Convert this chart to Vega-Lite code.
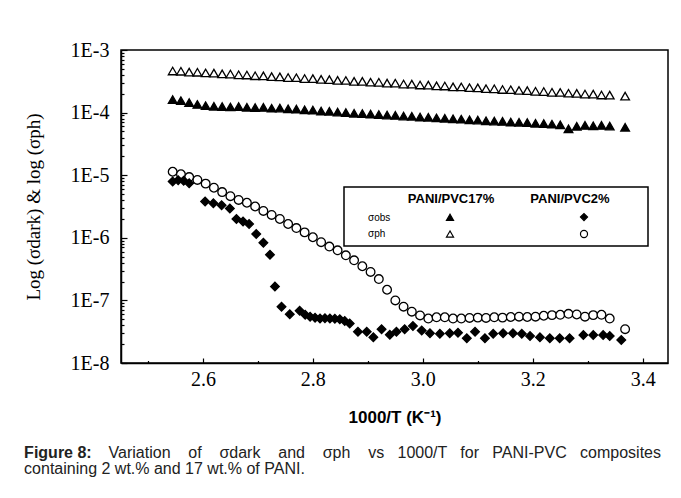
{
  "$schema": "https://vega.github.io/schema/vega-lite/v6.json",
  "width": 547,
  "height": 313,
  "autosize": {"type": "none"},
  "padding": {"left": 121, "top": 50, "right": 13, "bottom": 135},
  "background": "white",
  "config": {
    "view": {"stroke": "black", "strokeWidth": 1.5},
    "axis": {"grid": false, "domainColor": "black", "domainWidth": 1.5, "tickColor": "black", "tickWidth": 1.2, "labelColor": "black", "titleColor": "black", "labelFont": "Liberation Serif", "labelFontSize": 20, "labelFlush": false, "labelOverlap": false},
    "legend": {"strokeWidth": 1.5}
  },
  "title": {
    "text": "Figure 8:",
    "subtitle": ["\u200b\u00a0\u00a0\u00a0\u00a0\u00a0\u00a0\u00a0\u00a0\u00a0\u00a0\u00a0\u00a0\u00a0\u00a0\u00a0\u00a0\u00a0\u00a0\u00a0Variation \u00a0\u00a0\u00a0of \u00a0\u00a0\u00a0σdark \u00a0\u00a0\u00a0and \u00a0\u00a0\u00a0σph \u00a0\u00a0\u00a0vs \u00a0\u00a01000/T \u00a0\u00a0for \u00a0\u00a0PANI-PVC \u00a0\u00a0composites", "containing 2 wt.% and 17 wt.% of PANI."],
    "orient": "bottom",
    "anchor": "start",
    "frame": "bounds",
    "offset": 19,
    "dx": 0,
    "font": "Liberation Sans",
    "fontSize": 16,
    "fontWeight": "bold",
    "color": "#222",
    "subtitleFont": "Liberation Sans",
    "subtitleFontSize": 16,
    "subtitleFontWeight": "normal",
    "subtitleColor": "#222",
    "subtitleLineHeight": 16,
    "subtitlePadding": -16
  },
  "encoding": {
    "x": {
      "field": "x", "type": "quantitative",
      "scale": {"domain": [2.451, 3.446], "nice": false, "zero": false},
      "axis": {
        "title": "1000/T (K⁻¹)",
        "titleFont": "Liberation Sans", "titleFontSize": 17, "titleFontWeight": "bold", "titlePadding": 18,
        "values": [2.5, 2.6, 2.7, 2.8, 2.9, 3.0, 3.1, 3.2, 3.3, 3.4],
        "labelExpr": "round(datum.value*10)%2==0 ? format(datum.value,'.1f') : ''",
        "tickSize": {"condition": {"test": "round(datum.value*10)%2==0", "value": -5}, "value": -2.5},
        "labelPadding": 11
      }
    },
    "y": {
      "field": "value", "type": "quantitative",
      "scale": {"type": "log", "domain": [1e-8, 1e-3], "nice": false},
      "axis": {
        "title": "Log (σdark) & log (σph)",
        "titleFont": "Liberation Serif", "titleFontSize": 19, "titleFontWeight": "normal", "titlePadding": 27,
        "values": [1e-8,2e-8,3e-8,4e-8,5e-8,6e-8,7e-8,8e-8,9e-8,1e-7,2e-7,3e-7,4e-7,5e-7,6e-7,7e-7,8e-7,9e-7,1e-6,2e-6,3e-6,4e-6,5e-6,6e-6,7e-6,8e-6,9e-6,1e-5,2e-5,3e-5,4e-5,5e-5,6e-5,7e-5,8e-5,9e-5,1e-4,2e-4,3e-4,4e-4,5e-4,6e-4,7e-4,8e-4,9e-4,1e-3],
        "labelExpr": "abs(log(datum.value)/LN10-round(log(datum.value)/LN10))<1e-6 ? '1E'+round(log(datum.value)/LN10) : ''",
        "tickSize": {"condition": {"test": "abs(log(datum.value)/LN10-round(log(datum.value)/LN10))<1e-6", "value": -6}, "value": -3},
        "labelPadding": 18
      }
    },
    "shape": {
      "field": "key", "type": "nominal",
      "scale": {"domain": ["r1", "r2", "a", "b", "d", "c"], "range": ["M0,0", "M0,0", "triangle-up", "triangle-up", "diamond", "circle"]},
      "legend": {
        "orient": "none", "legendX": 223, "legendY": 137, "columns": 3, "columnPadding": 53, "rowPadding": 5, "padding": 6,
        "strokeColor": "black", "fillColor": "white",
        "title": "\u200b\u00a0\u00a0\u00a0\u00a0\u00a0\u00a0\u00a0\u00a0\u00a0\u00a0\u00a0\u00a0\u00a0\u00a0\u00a0\u00a0PANI/PVC17%\u00a0\u00a0\u00a0\u00a0\u00a0\u00a0\u00a0\u00a0\u00a0\u00a0PANI/PVC2%",
        "titleFont": "Liberation Sans", "titleFontSize": 13, "titleFontWeight": "bold", "titlePadding": 6, "titleLimit": 400, "titleColor": "black",
        "labelFont": "Liberation Sans", "labelFontSize": 10, "labelColor": "black", "labelOffset": 8, "labelLimit": 300,
        "labelExpr": "datum.value=='r1' ? 'σobs' : datum.value=='r2' ? 'σph' : (datum.value=='a'||datum.value=='b') ? '\u200b\u00a0\u00a0\u00a0\u00a0\u00a0\u00a0\u00a0\u00a0\u00a0\u00a0\u00a0\u00a0\u00a0\u00a0\u00a0\u00a0\u00a0\u00a0\u00a0\u00a0\u00a0\u00a0\u200b' : '\u200b\u00a0\u00a0\u00a0\u00a0\u00a0\u00a0\u00a0\u00a0\u00a0\u00a0\u00a0\u00a0\u00a0\u00a0\u00a0\u00a0\u200b'",
        "symbolSize": 50, "symbolStrokeWidth": 1.2
      }
    },
    "fill": {
      "field": "key", "type": "nominal",
      "scale": {"domain": ["r1", "r2", "a", "b", "d", "c"], "range": ["transparent", "transparent", "black", "white", "black", "white"]},
      "legend": {
        "orient": "none", "legendX": 223, "legendY": 137, "columns": 3, "columnPadding": 53, "rowPadding": 5, "padding": 6,
        "strokeColor": "black", "fillColor": "white",
        "title": "\u200b\u00a0\u00a0\u00a0\u00a0\u00a0\u00a0\u00a0\u00a0\u00a0\u00a0\u00a0\u00a0\u00a0\u00a0\u00a0\u00a0PANI/PVC17%\u00a0\u00a0\u00a0\u00a0\u00a0\u00a0\u00a0\u00a0\u00a0\u00a0PANI/PVC2%",
        "titleFont": "Liberation Sans", "titleFontSize": 13, "titleFontWeight": "bold", "titlePadding": 6, "titleLimit": 400, "titleColor": "black",
        "labelFont": "Liberation Sans", "labelFontSize": 10, "labelColor": "black", "labelOffset": 8, "labelLimit": 300,
        "labelExpr": "datum.value=='r1' ? 'σobs' : datum.value=='r2' ? 'σph' : (datum.value=='a'||datum.value=='b') ? '\u200b\u00a0\u00a0\u00a0\u00a0\u00a0\u00a0\u00a0\u00a0\u00a0\u00a0\u00a0\u00a0\u00a0\u00a0\u00a0\u00a0\u00a0\u00a0\u00a0\u00a0\u00a0\u00a0\u200b' : '\u200b\u00a0\u00a0\u00a0\u00a0\u00a0\u00a0\u00a0\u00a0\u00a0\u00a0\u00a0\u00a0\u00a0\u00a0\u00a0\u00a0\u200b'",
        "symbolSize": 50, "symbolStrokeWidth": 1.2
      }
    },
    "stroke": {
      "field": "key", "type": "nominal",
      "scale": {"domain": ["r1", "r2", "a", "b", "d", "c"], "range": ["transparent", "transparent", "black", "black", "black", "black"]},
      "legend": {
        "orient": "none", "legendX": 223, "legendY": 137, "columns": 3, "columnPadding": 53, "rowPadding": 5, "padding": 6,
        "strokeColor": "black", "fillColor": "white",
        "title": "\u200b\u00a0\u00a0\u00a0\u00a0\u00a0\u00a0\u00a0\u00a0\u00a0\u00a0\u00a0\u00a0\u00a0\u00a0\u00a0\u00a0PANI/PVC17%\u00a0\u00a0\u00a0\u00a0\u00a0\u00a0\u00a0\u00a0\u00a0\u00a0PANI/PVC2%",
        "titleFont": "Liberation Sans", "titleFontSize": 13, "titleFontWeight": "bold", "titlePadding": 6, "titleLimit": 400, "titleColor": "black",
        "labelFont": "Liberation Sans", "labelFontSize": 10, "labelColor": "black", "labelOffset": 8, "labelLimit": 300,
        "labelExpr": "datum.value=='r1' ? 'σobs' : datum.value=='r2' ? 'σph' : (datum.value=='a'||datum.value=='b') ? '\u200b\u00a0\u00a0\u00a0\u00a0\u00a0\u00a0\u00a0\u00a0\u00a0\u00a0\u00a0\u00a0\u00a0\u00a0\u00a0\u00a0\u00a0\u00a0\u00a0\u00a0\u00a0\u00a0\u200b' : '\u200b\u00a0\u00a0\u00a0\u00a0\u00a0\u00a0\u00a0\u00a0\u00a0\u00a0\u00a0\u00a0\u00a0\u00a0\u00a0\u00a0\u200b'",
        "symbolSize": 50, "symbolStrokeWidth": 1.2
      }
    }
  },
  "layer": [
    {
      "data": {"values": [
        {"x": 2.545, "a": 1.62e-4, "b": 4.62e-4, "c": 1.135e-5},
        {"x": 2.560, "a": 1.55e-4, "b": 4.58e-4, "c": 1.035e-5},
        {"x": 2.575, "a": 1.45e-4, "b": 4.44e-4, "c": 9.33e-6},
        {"x": 2.590, "a": 1.35e-4, "b": 4.41e-4, "c": 8.41e-6},
        {"x": 2.605, "a": 1.29e-4, "b": 4.30e-4, "c": 7.33e-6},
        {"x": 2.620, "a": 1.26e-4, "b": 4.27e-4, "c": 6.31e-6},
        {"x": 2.635, "a": 1.245e-4, "b": 4.15e-4, "c": 5.37e-6},
        {"x": 2.650, "a": 1.23e-4, "b": 4.13e-4, "c": 4.62e-6},
        {"x": 2.665, "a": 1.245e-4, "b": 4.02e-4, "c": 4.03e-6},
        {"x": 2.680, "a": 1.215e-4, "b": 3.99e-4, "c": 3.63e-6},
        {"x": 2.695, "a": 1.20e-4, "b": 3.88e-4, "c": 3.16e-6},
        {"x": 2.710, "a": 1.21e-4, "b": 3.86e-4, "c": 2.69e-6},
        {"x": 2.725, "a": 1.175e-4, "b": 3.76e-4, "c": 2.32e-6},
        {"x": 2.740, "a": 1.18e-4, "b": 3.73e-4, "c": 2.0e-6},
        {"x": 2.755, "a": 1.15e-4, "b": 3.63e-4, "c": 1.66e-6},
        {"x": 2.770, "a": 1.135e-4, "b": 3.61e-4, "c": 1.43e-6},
        {"x": 2.785, "a": 1.11e-4, "b": 3.50e-4, "c": 1.22e-6},
        {"x": 2.800, "a": 1.10e-4, "b": 3.49e-4, "c": 1.02e-6},
        {"x": 2.815, "a": 1.06e-4, "b": 3.39e-4, "c": 8.51e-7},
        {"x": 2.830, "a": 1.05e-4, "b": 3.37e-4, "c": 7.24e-7},
        {"x": 2.845, "a": 1.02e-4, "b": 3.28e-4, "c": 6.31e-7},
        {"x": 2.860, "a": 1.0e-4, "b": 3.26e-4, "c": 5.25e-7},
        {"x": 2.875, "a": 9.77e-5, "b": 3.16e-4, "c": 4.37e-7},
        {"x": 2.890, "a": 9.66e-5, "b": 3.15e-4, "c": 3.51e-7},
        {"x": 2.905, "a": 9.44e-5, "b": 3.06e-4, "c": 2.85e-7},
        {"x": 2.920, "a": 9.33e-5, "b": 3.05e-4, "c": 2.19e-7},
        {"x": 2.935, "a": 9.12e-5, "b": 2.96e-4, "c": 1.48e-7},
        {"x": 2.950, "a": 9.02e-5, "b": 2.95e-4, "c": 1.0e-7},
        {"x": 2.965, "a": 8.81e-5, "b": 2.86e-4, "c": 7.94e-8},
        {"x": 2.980, "a": 8.71e-5, "b": 2.85e-4, "c": 6.61e-8},
        {"x": 2.995, "a": 8.51e-5, "b": 2.76e-4, "c": 5.75e-8},
        {"x": 3.010, "a": 8.41e-5, "b": 2.75e-4, "c": 5.13e-8},
        {"x": 3.025, "a": 8.22e-5, "b": 2.67e-4, "c": 5.37e-8},
        {"x": 3.040, "a": 8.13e-5, "b": 2.66e-4, "c": 5.37e-8},
        {"x": 3.055, "a": 7.94e-5, "b": 2.58e-4, "c": 5.13e-8},
        {"x": 3.070, "a": 7.85e-5, "b": 2.57e-4, "c": 5.13e-8},
        {"x": 3.085, "a": 7.67e-5, "b": 2.50e-4, "c": 5.25e-8},
        {"x": 3.100, "a": 7.59e-5, "b": 2.48e-4, "c": 5.31e-8},
        {"x": 3.115, "a": 7.41e-5, "b": 2.41e-4, "c": 5.25e-8},
        {"x": 3.130, "a": 7.33e-5, "b": 2.40e-4, "c": 5.37e-8},
        {"x": 3.145, "a": 7.24e-5, "b": 2.34e-4, "c": 5.31e-8},
        {"x": 3.160, "a": 7.08e-5, "b": 2.32e-4, "c": 5.43e-8},
        {"x": 3.175, "a": 7.0e-5, "b": 2.26e-4, "c": 5.50e-8},
        {"x": 3.190, "a": 6.92e-5, "b": 2.25e-4, "c": 5.43e-8},
        {"x": 3.205, "a": 6.76e-5, "b": 2.19e-4, "c": 5.50e-8},
        {"x": 3.220, "a": 6.68e-5, "b": 2.17e-4, "c": 5.69e-8},
        {"x": 3.235, "a": 6.53e-5, "b": 2.11e-4, "c": 5.82e-8},
        {"x": 3.250, "a": 6.38e-5, "b": 2.10e-4, "c": 5.89e-8},
        {"x": 3.265, "a": 5.50e-5, "b": 2.04e-4, "c": 6.10e-8},
        {"x": 3.280, "a": 6.03e-5, "b": 2.03e-4, "c": 5.96e-8},
        {"x": 3.295, "a": 6.24e-5, "b": 1.98e-4, "c": 5.50e-8},
        {"x": 3.310, "a": 6.17e-5, "b": 1.97e-4, "c": 5.82e-8},
        {"x": 3.325, "a": 6.24e-5, "b": 1.91e-4, "c": 5.89e-8},
        {"x": 3.340, "a": 6.10e-5, "b": 1.90e-4, "c": 5.13e-8},
        {"x": 3.368, "a": 5.82e-5, "b": 1.83e-4, "c": 3.47e-8}
      ]},
      "transform": [{"fold": ["a", "b", "c"]}],
      "mark": {"type": "point", "strokeWidth": 1.3, "size": 75, "opacity": 1}
    },
    {
      "data": {"values": [
        {"x": 2.545, "key": "d", "value": 7.94e-6},
        {"x": 2.555, "key": "d", "value": 8.32e-6},
        {"x": 2.565, "key": "d", "value": 8.13e-6},
        {"x": 2.575, "key": "d", "value": 7.41e-6},
        {"x": 2.604, "key": "d", "value": 3.80e-6},
        {"x": 2.619, "key": "d", "value": 3.55e-6},
        {"x": 2.634, "key": "d", "value": 3.31e-6},
        {"x": 2.649, "key": "d", "value": 2.95e-6},
        {"x": 2.661, "key": "d", "value": 2.0e-6},
        {"x": 2.673, "key": "d", "value": 1.82e-6},
        {"x": 2.684, "key": "d", "value": 1.66e-6},
        {"x": 2.697, "key": "d", "value": 1.15e-6},
        {"x": 2.710, "key": "d", "value": 8.32e-7},
        {"x": 2.722, "key": "d", "value": 5.37e-7},
        {"x": 2.731, "key": "d", "value": 1.66e-7},
        {"x": 2.743, "key": "d", "value": 7.94e-8},
        {"x": 2.758, "key": "d", "value": 6.03e-8},
        {"x": 2.776, "key": "d", "value": 6.84e-8},
        {"x": 2.786, "key": "d", "value": 5.9e-8},
        {"x": 2.795, "key": "d", "value": 5.50e-8},
        {"x": 2.804, "key": "d", "value": 5.3e-8},
        {"x": 2.813, "key": "d", "value": 5.13e-8},
        {"x": 2.822, "key": "d", "value": 5.2e-8},
        {"x": 2.831, "key": "d", "value": 5.13e-8},
        {"x": 2.840, "key": "d", "value": 5.1e-8},
        {"x": 2.849, "key": "d", "value": 5.01e-8},
        {"x": 2.858, "key": "d", "value": 4.7e-8},
        {"x": 2.867, "key": "d", "value": 4.27e-8},
        {"x": 2.882, "key": "d", "value": 3.16e-8},
        {"x": 2.898, "key": "d", "value": 3.16e-8},
        {"x": 2.910, "key": "d", "value": 2.57e-8},
        {"x": 2.925, "key": "d", "value": 3.47e-8},
        {"x": 2.940, "key": "d", "value": 2.82e-8},
        {"x": 2.952, "key": "d", "value": 3.16e-8},
        {"x": 2.967, "key": "d", "value": 3.47e-8},
        {"x": 2.982, "key": "d", "value": 3.89e-8},
        {"x": 2.998, "key": "d", "value": 3.31e-8},
        {"x": 3.013, "key": "d", "value": 2.99e-8},
        {"x": 3.031, "key": "d", "value": 2.92e-8},
        {"x": 3.049, "key": "d", "value": 2.99e-8},
        {"x": 3.064, "key": "d", "value": 3.05e-8},
        {"x": 3.080, "key": "d", "value": 2.48e-8},
        {"x": 3.095, "key": "d", "value": 3.16e-8},
        {"x": 3.113, "key": "d", "value": 2.48e-8},
        {"x": 3.128, "key": "d", "value": 2.92e-8},
        {"x": 3.146, "key": "d", "value": 2.99e-8},
        {"x": 3.164, "key": "d", "value": 2.99e-8},
        {"x": 3.180, "key": "d", "value": 2.92e-8},
        {"x": 3.195, "key": "d", "value": 2.69e-8},
        {"x": 3.213, "key": "d", "value": 2.57e-8},
        {"x": 3.231, "key": "d", "value": 2.48e-8},
        {"x": 3.249, "key": "d", "value": 2.48e-8},
        {"x": 3.267, "key": "d", "value": 2.48e-8},
        {"x": 3.292, "key": "d", "value": 2.79e-8},
        {"x": 3.310, "key": "d", "value": 2.79e-8},
        {"x": 3.328, "key": "d", "value": 2.79e-8},
        {"x": 3.340, "key": "d", "value": 2.69e-8},
        {"x": 3.361, "key": "d", "value": 2.34e-8}
      ]},
      "mark": {"type": "point", "strokeWidth": 1.3, "size": 75, "opacity": 1}
    }
  ]
}
